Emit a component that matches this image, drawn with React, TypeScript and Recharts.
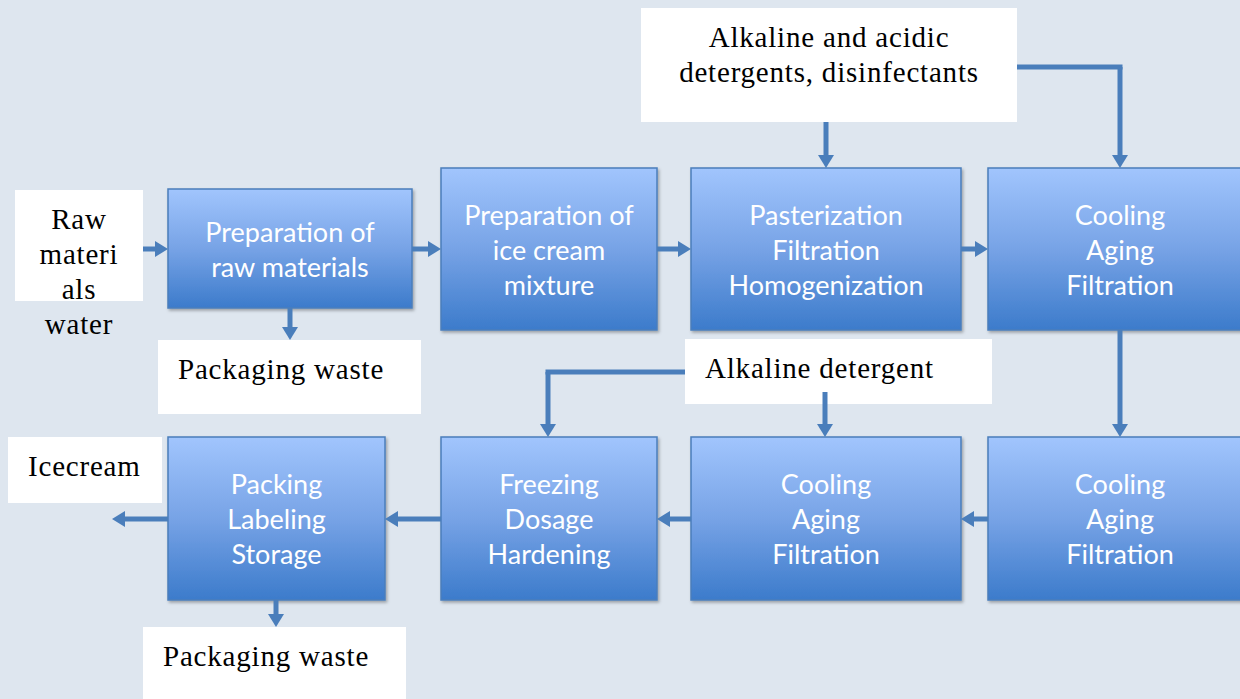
import React from 'react';
import { ComposedChart, XAxis, YAxis, ReferenceArea, ReferenceLine } from 'recharts';

// process steps (blue boxes), coordinates in the chart's own 0..1240 / 0..699 space
const stepLines = [
  ['Preparation of', 'raw materials'],
  ['Preparation of', 'ice cream', 'mixture'],
  ['Pasterization', 'Filtration', 'Homogenization'],
  ['Cooling', 'Aging', 'Filtration'],
  ['Packing', 'Labeling', 'Storage'],
  ['Freezing', 'Dosage', 'Hardening'],
  ['Cooling', 'Aging', 'Filtration'],
  ['Cooling', 'Aging', 'Filtration'],
];
const stepLeft = [168, 441, 691, 988, 168, 441, 691, 988];
const stepRight = [412, 657, 961, 1252, 385, 657, 961, 1252];
const stepTop = [189, 168, 168, 168, 437, 437, 437, 437];
const stepBottom = [308, 330, 330, 330, 600, 600, 600, 600];

// inputs / outputs (white notes)
const noteLines = [
  ['Alkaline and acidic', 'detergents, disinfectants'],
  ['Raw', 'materi', 'als', 'water'],
  ['Packaging waste'],
  ['Alkaline detergent'],
  ['Icecream'],
  ['Packaging waste'],
];
const noteLeft = [641, 15, 158, 685, 8, 143];
const noteRight = [1017, 143, 421, 992, 162, 406];
const noteTop = [8, 190, 340, 339, 437, 627];
const noteBottom = [122, 301, 414, 404, 503, 699];
const noteCentered = [true, true, false, false, false, false];

// connectors, each a polyline ending in an arrow head
const arrowPaths: number[][][] = [
  [[143, 249], [168, 249]],
  [[412, 249], [441, 249]],
  [[657, 249], [691, 249]],
  [[961, 249], [988, 249]],
  [[290, 308], [290, 340]],
  [[826, 122], [826, 168]],
  [[1017, 67], [1120, 67], [1120, 168]],
  [[1120, 330], [1120, 437]],
  [[988, 519], [961, 519]],
  [[691, 519], [657, 519]],
  [[441, 519], [385, 519]],
  [[168, 519], [112, 519]],
  [[276, 600], [276, 627]],
  [[685, 372], [548, 372], [548, 437]],
  [[825, 392], [825, 437]],
];

const BG = '#dee6ef';
const BLUE = '#4a7ebb';
const LINE_GAP = 35;

const StepBox = (props: any) => {
  const { x, y, width, height, lines, idx } = props;
  const gid = `stepFill${idx}`;
  const fid = `stepShadow${idx}`;
  const cx = x + width / 2;
  const start = y + height / 2 - ((lines.length - 1) * LINE_GAP) / 2;
  return (
    <g>
      <defs>
        <linearGradient id={gid} x1="0" y1="0" x2="0" y2="1">
          <stop offset="0%" stopColor="#a1c5fd" />
          <stop offset="50%" stopColor="#77a3e6" />
          <stop offset="100%" stopColor="#3c7bcb" />
        </linearGradient>
        <filter id={fid} x="-10%" y="-10%" width="130%" height="130%">
          <feDropShadow dx="1.5" dy="2" stdDeviation="1.5" floodColor="#000" floodOpacity="0.3" />
        </filter>
      </defs>
      <rect x={x} y={y} width={width} height={height} fill={`url(#${gid})`} stroke={BLUE} strokeWidth={1.5} filter={`url(#${fid})`} />
      {lines.map((t: string, k: number) => (
        <text
          key={k}
          x={cx}
          y={start + k * LINE_GAP}
          textAnchor="middle"
          dominantBaseline="central"
          fill="#ffffff"
          fontFamily="Lato, 'Open Sans', sans-serif"
          fontSize={27}
        >
          {t}
        </text>
      ))}
    </g>
  );
};

const NoteBox = (props: any) => {
  const { x, y, width, height, lines, centered } = props;
  const tx = centered ? x + width / 2 : x + 20;
  return (
    <g>
      <rect x={x} y={y} width={width} height={height} fill="#ffffff" />
      {lines.map((t: string, k: number) => (
        <text
          key={k}
          x={tx}
          y={y + 29 + k * LINE_GAP}
          textAnchor={centered ? 'middle' : 'start'}
          dominantBaseline="central"
          fill="#000000"
          fontFamily="'Liberation Serif', serif"
          fontSize={29}
          letterSpacing={0.8}
        >
          {t}
        </text>
      ))}
    </g>
  );
};

const ArrowSeg = (props: any) => {
  const { x1, y1, x2, y2, head } = props;
  const dx = x2 - x1;
  const dy = y2 - y1;
  const len = Math.hypot(dx, dy) || 1;
  const ux = dx / len;
  const uy = dy / len;
  if (!head) {
    // run a little past the corner so the elbow is closed
    return <line x1={x1} y1={y1} x2={x2 + ux * 2.5} y2={y2 + uy * 2.5} stroke={BLUE} strokeWidth={5} />;
  }
  const hl = 13;
  const hw = 8;
  const bx = x2 - ux * hl;
  const by = y2 - uy * hl;
  const px = -uy;
  const py = ux;
  return (
    <g>
      <line x1={x1} y1={y1} x2={bx + ux} y2={by + uy} stroke={BLUE} strokeWidth={5} />
      <polygon
        points={`${x2},${y2} ${bx + px * hw},${by + py * hw} ${bx - px * hw},${by - py * hw}`}
        fill={BLUE}
      />
    </g>
  );
};

export default function App() {
  return (
    <div style={{ position: 'absolute', left: 0, top: 0, width: 1240, height: 699, background: BG }}>
      <ComposedChart width={1240} height={699} margin={{ top: 0, right: 0, bottom: 0, left: 0 }}>
        <XAxis type="number" dataKey="x" domain={[0, 1240]} hide allowDataOverflow />
        <YAxis type="number" domain={[0, 699]} reversed hide allowDataOverflow />
        {noteLines.map((lines, i) => (
          <ReferenceArea
            key={`note-${i}`}
            x1={noteLeft[i]}
            x2={noteRight[i]}
            y1={noteTop[i]}
            y2={noteBottom[i]}
            ifOverflow="visible"
            shape={(p: any) => <NoteBox {...p} lines={lines} centered={noteCentered[i]} />}
          />
        ))}
        {stepLines.map((lines, i) => (
          <ReferenceArea
            key={`step-${i}`}
            x1={stepLeft[i]}
            x2={stepRight[i]}
            y1={stepTop[i]}
            y2={stepBottom[i]}
            ifOverflow="visible"
            shape={(p: any) => <StepBox {...p} lines={lines} idx={i} />}
          />
        ))}
        {arrowPaths.map((path, i) =>
          path.slice(1).map((pt, k) => (
            <ReferenceLine
              key={`arrow-${i}-${k}`}
              segment={[
                { x: path[k][0], y: path[k][1] },
                { x: pt[0], y: pt[1] },
              ]}
              ifOverflow="visible"
              shape={(p: any) => <ArrowSeg {...p} head={k === path.length - 2} />}
            />
          ))
        )}
      </ComposedChart>
    </div>
  );
}
